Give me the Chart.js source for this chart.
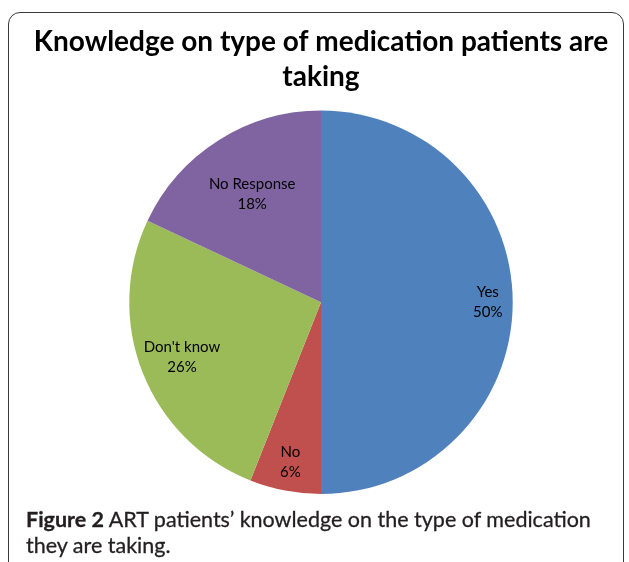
<!DOCTYPE html>
<html>
<head>
<meta charset="utf-8">
<script src="https://cdn.jsdelivr.net/npm/chart.js@4.4.1/dist/chart.umd.min.js"></script>
<style>
  html, body { margin: 0; padding: 0; background: #fff; }
  body { width: 629px; height: 562px; position: relative; overflow: hidden; }
  #frame {
    position: absolute; left: 8px; top: 12px; width: 616px; height: 600px;
    border: 1.5px solid #3a3a3a; border-radius: 12px; box-sizing: border-box;
  }
  #wrap { position: absolute; left: 0; top: 0; width: 629px; height: 562px; }
  #caption {
    position: absolute; left: 26px; top: 506px; width: 600px; white-space: nowrap;
    font-family: Lato, "Open Sans", sans-serif; font-size: 21.5px; line-height: 26px;
    color: #231f20; -webkit-text-stroke: 0.3px #231f20;
  }
  #caption b { font-weight: 700; }
</style>
</head>
<body>
<div id="frame"></div>
<div id="wrap"><canvas id="pie"></canvas></div>
<div id="caption"><b>Figure 2</b> ART patients’ knowledge on the type of medication<br>they are taking.</div>
<script>
var labels = ['Yes', 'No', "Don't know", 'No Response'];
var percents = [50, 6, 26, 18];
var colours = ['#4f81bd', '#c0504d', '#9bbb59', '#8064a2'];
var titleLines = ['Knowledge on type of medication patients are', 'taking'];

// how far out along each slice the label sits (fraction of radius)
var labelDist = [0.87, 0.85, 0.78, 0.67];

var sliceLabels = {
    id: 'sliceLabels',
    afterDatasetsDraw: function(chart) {
        var ctx = chart.ctx;
        var arcs = chart.getDatasetMeta(0).data;
        ctx.save();
        ctx.font = '15px Lato, "Open Sans", sans-serif';
        ctx.fillStyle = '#000';
        ctx.textAlign = 'center';
        ctx.textBaseline = 'middle';
        arcs.forEach(function(arc, i) {
            var mid = (arc.startAngle + arc.endAngle) / 2;
            var d = arc.outerRadius * labelDist[i];
            var x = arc.x + Math.cos(mid) * d;
            var y = arc.y + Math.sin(mid) * d;
            ctx.fillText(labels[i], x, y - 10);
            ctx.fillText(percents[i] + '%', x, y + 10);
        });
        ctx.restore();
    }
};

var ctx = document.getElementById('pie').getContext('2d');
var myPie = new Chart(ctx, {
    type: 'pie',
    data: {
        labels: labels,
        datasets: [{
            data: percents,
            backgroundColor: colours,
            borderWidth: 0
        }]
    },
    options: {
        responsive: true,
        maintainAspectRatio: false,
        animation: false,
        layout: { padding: { top: 24, bottom: 68, left: 13, right: 0 } },
        plugins: {
            legend: { display: false },
            tooltip: { enabled: false },
            title: {
                display: true,
                text: titleLines,
                color: '#000',
                font: { family: 'Lato, "Open Sans", sans-serif', size: 28, weight: 'bold', lineHeight: 1.26 },
                padding: { top: 0, bottom: 16 }
            }
        }
    },
    plugins: [sliceLabels]
});
</script>
</body>
</html>
